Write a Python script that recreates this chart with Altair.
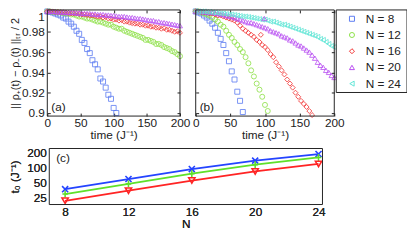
import altair as alt
import pandas as pd

# ---------------- data ----------------
labels = ["N = 8", "N = 12", "N = 16", "N = 20", "N = 24"]
marker_colors = ["#5c7cf2", "#8be044", "#f23030", "#b94ef2", "#5fe6d6"]
marker_shapes = ["square", "circle", "diamond", "triangle-up", "triangle-left"]

t_grid = list(range(0, 201, 4))  # sampling times (J^-1)

# panel (a)
a_n8 = [1.000, 0.9995, 0.999, 0.998, 0.997, 0.996, 0.994, 0.993, 0.990, 0.988,
        0.985, 0.981, 0.978, 0.972, 0.969, 0.963, 0.959, 0.952, 0.948, 0.943,
        0.934, 0.931, 0.925, 0.918, 0.914, 0.905, 0.900]
a_n12 = [1.000, 1.000, 0.9995, 0.9995, 0.999, 0.999, 0.9985, 0.998, 0.998, 0.997,
         0.997, 0.996, 0.995, 0.995, 0.994, 0.993, 0.993, 0.992, 0.991, 0.990,
         0.990, 0.989, 0.988, 0.987, 0.987, 0.985, 0.984, 0.983, 0.983, 0.981,
         0.980, 0.979, 0.978, 0.977, 0.976, 0.975, 0.974, 0.972, 0.972, 0.971,
         0.970, 0.968, 0.968, 0.967, 0.965, 0.964, 0.963, 0.961, 0.960, 0.958,
         0.956]
a_n16 = [1.000, 1.000, 1.000, 0.9995, 0.9995, 0.999, 0.999, 0.999, 0.9985, 0.998,
         0.998, 0.998, 0.9975, 0.997, 0.997, 0.9965, 0.996, 0.996, 0.9955, 0.995,
         0.995, 0.994, 0.9945, 0.993, 0.993, 0.992, 0.992, 0.991, 0.9915, 0.990,
         0.990, 0.989, 0.9885, 0.988, 0.988, 0.987, 0.987, 0.986, 0.986, 0.985,
         0.985, 0.984, 0.984, 0.983, 0.9835, 0.982, 0.982, 0.981, 0.980, 0.9805,
         0.979]
a_n20 = [1.000, 1.000, 1.000, 1.000, 0.9995, 0.9995, 0.9995, 0.999, 0.999, 0.999,
         0.999, 0.9985, 0.9985, 0.998, 0.998, 0.998, 0.998, 0.9975, 0.9975, 0.997,
         0.997, 0.997, 0.9965, 0.9965, 0.996, 0.996, 0.9955, 0.995, 0.995, 0.995,
         0.9945, 0.994, 0.994, 0.9935, 0.993, 0.993, 0.9925, 0.992, 0.9915, 0.991,
         0.991, 0.990, 0.990, 0.989, 0.989, 0.9885, 0.988, 0.9875, 0.987, 0.9865,
         0.986]

# panel (b)
b_n8 = [1.000, 0.999, 0.998, 0.996, 0.994, 0.991, 0.988, 0.984, 0.979, 0.973,
        0.967, 0.959, 0.951, 0.941, 0.933, 0.921, 0.912, 0.901]
b_n12 = [1.000, 1.000, 0.999, 0.998, 0.997, 0.996, 0.994, 0.992, 0.990, 0.987,
         0.985, 0.981, 0.977, 0.974, 0.970, 0.967, 0.963, 0.960, 0.955, 0.949,
         0.942, 0.936, 0.929, 0.923, 0.916, 0.908, 0.902]
b_n16 = [1.000, 1.000, 0.9995, 0.999, 0.999, 0.998, 0.998, 0.997, 0.996, 0.996,
         0.995, 0.994, 0.993, 0.992, 0.991, 0.989, 0.986, 0.983, 0.981, 0.979,
         0.977, 0.975, 0.972, 0.970, 0.967, 0.965, 0.962, 0.958, 0.955, 0.950,
         0.946, 0.942, 0.938, 0.933, 0.929, 0.925, 0.920, 0.916, 0.912, 0.909,
         0.906, 0.902, 0.898]
b_n20 = [1.000, 1.000, 1.000, 0.9995, 0.9995, 0.999, 0.999, 0.9985, 0.998, 0.9975,
         0.997, 0.996, 0.9955, 0.995, 0.994, 0.993, 0.992, 0.991, 0.990, 0.989,
         0.989, 0.988, 0.987, 0.986, 0.985, 0.984, 0.983, 0.981, 0.980, 0.979,
         0.978, 0.976, 0.975, 0.974, 0.972, 0.971, 0.969, 0.967, 0.966, 0.964,
         0.962, 0.960, 0.957, 0.954, 0.950, 0.947, 0.945, 0.942, 0.940, 0.937,
         0.935]
b_n24 = [1.000, 1.000, 1.000, 1.000, 0.9995, 0.9995, 0.999, 0.999, 0.9985, 0.998,
         0.998, 0.9975, 0.997, 0.997, 0.9965, 0.996, 0.9955, 0.995, 0.995, 0.9945,
         0.994, 0.9935, 0.993, 0.9925, 0.992, 0.992, 0.991, 0.990, 0.990, 0.989,
         0.988, 0.987, 0.987, 0.986, 0.985, 0.984, 0.983, 0.982, 0.981, 0.980,
         0.979, 0.978, 0.977, 0.976, 0.975, 0.973, 0.972, 0.970, 0.968, 0.966,
         0.965]
# isolated outlying samples in panel (b)
b_extra_t = [94, 99]
b_extra_v = [0.977, 0.993]
b_extra_lab = ["N = 16", "N = 20"]

# panel (c)
N_vals = [8, 12, 16, 20, 24]
t0_blue = [37.5, 60, 95, 140, 190]
t0_green = [30, 48, 77, 116, 162]
t0_red = [22, 35, 56, 85, 120]

time_ticks = [0, 50, 100, 150, 200]
y_ticks = [0.9, 0.92, 0.94, 0.96, 0.98, 1.0]
t0_ticks = [25, 50, 100, 200]

# ---------------- tables ----------------
def series_table(series, extra=None):
    rows = []
    k = 0
    for lab, vals in series:
        for t, v in zip(t_grid, vals):
            rows.append({"t": t, "v": v, "label": lab, "k": k})
            k += 1
    if extra:
        for t, v, lab in zip(*extra):
            rows.append({"t": t, "v": v, "label": lab, "k": k})
            k += 1
    return pd.DataFrame(rows)

df_a = series_table(list(zip(labels[:4], [a_n8, a_n12, a_n16, a_n20])))
df_b = series_table(list(zip(labels, [b_n8, b_n12, b_n16, b_n20, b_n24])),
                    (b_extra_t, b_extra_v, b_extra_lab))
df_leg = pd.DataFrame({"label": labels, "row": list(range(len(labels)))})
df_c = pd.DataFrame({"N": N_vals * 3,
                     "t0": t0_blue + t0_green + t0_red,
                     "s": ["blue"] * 5 + ["green"] * 5 + ["red"] * 5})

# ---------------- layout (pixels inside the figure) ----------------
W, H = 406, 225
FS = 12
TXT = "#222"
A_X = (40, 175)
B_X = (191, 332)
TOP_Y = (0, 108)
C_X = (42, 320)
C_Y = (141, 198)
LEG_X = (334, 406)
LEG_Y = (0, 84)

color_enc = alt.Color("label:N", scale=alt.Scale(domain=labels, range=marker_colors), legend=None)
shape_enc = alt.Shape("label:N", scale=alt.Scale(domain=labels, range=marker_shapes), legend=None)
one = pd.DataFrame({"z": [0]})
y_top_scale = alt.Scale(domain=[0.897, 1.0015], range=[TOP_Y[1], TOP_Y[0]], nice=False)


def t_scale(rng):
    return alt.Scale(domain=[0, 200], range=list(rng), nice=False)


def x_time_axis():
    return alt.Axis(orient="bottom", offset=TOP_Y[1] - H, values=time_ticks,
                    title="time (J⁻¹)", labelFlush=False, labelPadding=2, titlePadding=1)


def tick_axis(orient, offset, values):
    return alt.Axis(orient=orient, offset=offset, values=values, labels=False, title=None,
                    ticks=True, tickSize=3, tickColor=TXT, tickWidth=1, domain=False)


def inner_ticks(df, xr, yr):
    """two invisible layers that only carry inward-pointing tick marks on all four edges"""
    ys = y_top_scale
    xs = t_scale(xr)
    l1 = alt.Chart(df).mark_point(opacity=0).encode(
        x=alt.X("t:Q", scale=xs, axis=tick_axis("top", -yr[1], time_ticks)),
        y=alt.Y("v:Q", scale=ys, axis=tick_axis("right", xr[0] - W, y_ticks)))
    l2 = alt.Chart(df).mark_point(opacity=0).encode(
        x=alt.X("t:Q", scale=xs, axis=tick_axis("bottom", yr[0] - H, time_ticks)),
        y=alt.Y("v:Q", scale=ys, axis=tick_axis("left", -xr[1], y_ticks)))
    return [l1, l2]


pts_a = alt.Chart(df_a).mark_point(filled=False, size=26, strokeWidth=0.9, opacity=0.9).encode(
    x=alt.X("t:Q", scale=t_scale(A_X), axis=x_time_axis()),
    y=alt.Y("v:Q", scale=y_top_scale,
            axis=alt.Axis(orient="left", offset=-A_X[0], values=y_ticks, format=".2~f",
                          title="|| ρ₊(t) − ρ₋(t) ||ₜᵣ / 2", titleFontSize=11,
                          titleAngle=270, titleBaseline="bottom", titleAlign="center",
                          titleX=13 - A_X[0], titleY=(TOP_Y[0] + TOP_Y[1]) / 2,
                          labelPadding=3, labelFlush=3)),
    color=color_enc, shape=shape_enc, order=alt.Order("k:Q"),
)
pts_b = alt.Chart(df_b).mark_point(filled=False, size=26, strokeWidth=0.9, opacity=0.9).encode(
    x=alt.X("t:Q", scale=t_scale(B_X), axis=x_time_axis()),
    y=alt.Y("v:Q", scale=y_top_scale, axis=None),
    color=color_enc, shape=shape_enc, order=alt.Order("k:Q"),
)


def frame(xr, yr):
    return alt.Chart(one).mark_rect(fillOpacity=0, stroke=TXT, strokeWidth=1).encode(
        x=alt.value(xr[0]), x2=alt.value(xr[1]), y=alt.value(yr[0]), y2=alt.value(yr[1]))


def tag(s, x, y):
    return alt.Chart(pd.DataFrame({"s": [s]})).mark_text(
        align="left", baseline="middle", fontSize=FS, color=TXT).encode(
        x=alt.value(x), y=alt.value(y), text="s:N")


# legend
leg_y = alt.Y("row:O", axis=None, scale=alt.Scale(range=[9, 75], padding=0))
leg_box = alt.Chart(one).mark_rect(fill="white", stroke=TXT, strokeWidth=1).encode(
    x=alt.value(LEG_X[0]), x2=alt.value(LEG_X[1]), y=alt.value(LEG_Y[0]), y2=alt.value(LEG_Y[1]))
leg_pts = alt.Chart(df_leg).mark_point(filled=False, size=26, strokeWidth=1, opacity=1).encode(
    x=alt.value(LEG_X[0] + 16), y=leg_y, color=color_enc, shape=shape_enc)
leg_txt = alt.Chart(df_leg).mark_text(align="left", baseline="middle", fontSize=FS,
                                      color=TXT).encode(
    x=alt.value(LEG_X[0] + 30), y=leg_y, text="label:N")

# panel (c)
line_cols = {"blue": "#2444ff", "green": "#5fe02a", "red": "#ff2424"}
mk = {"blue": ("M-1,-1L1,1M-1,1L1,-1", 38),
      "green": ("M-0.8,0L0.8,0M0,-1L0,1", 48),
      "red": ("triangle-down", 40)}
cx_scale = alt.Scale(domain=[7, 24.25], range=list(C_X), nice=False)
cy_scale = alt.Scale(type="log", domain=[18.5, 245], range=[C_Y[1], C_Y[0]], nice=False)
c_layers = []
for i, s in enumerate(["blue", "green", "red"]):
    d = df_c[df_c.s == s]
    if i == 0:
        xax = alt.Axis(orient="bottom", offset=C_Y[1] - H, values=N_vals, title="N",
                       labelPadding=2, titlePadding=1)
        yax = alt.Axis(orient="left", offset=-C_X[0], values=t0_ticks,
                       title="t₀ (J⁻¹)", titleAngle=270, titleBaseline="bottom",
                       titleAlign="center", titleX=14 - C_X[0],
                       titleY=(C_Y[0] + C_Y[1]) / 2, labelPadding=3)
    else:
        xax, yax = None, None
    base = alt.Chart(d).encode(x=alt.X("N:Q", scale=cx_scale, axis=xax),
                               y=alt.Y("t0:Q", scale=cy_scale, axis=yax))
    c_layers.append(base.mark_line(color=line_cols[s], strokeWidth=1.8))
    c_layers.append(base.mark_point(shape=mk[s][0], size=mk[s][1], filled=False,
                                    color=line_cols[s], strokeWidth=1.6, opacity=1))

layers = ([pts_a, pts_b] + inner_ticks(df_a, A_X, TOP_Y) + inner_ticks(df_b, B_X, TOP_Y) +
          [frame(A_X, TOP_Y), frame(B_X, TOP_Y),
           tag("(a)", A_X[0] + 4, TOP_Y[1] - 9), tag("(b)", B_X[0] + 4, TOP_Y[1] - 9),
           leg_box, leg_pts, leg_txt] + c_layers +
          [frame(C_X, C_Y), tag("(c)", C_X[0] + 7, C_Y[0] + 10)])

chart = alt.layer(*layers).resolve_scale(x="independent", y="independent").properties(
    width=W, height=H, padding=0, autosize=alt.AutoSizeParams(type="none")
).configure(font="Liberation Sans").configure_view(stroke=None).configure_axis(
    labelFontSize=FS, titleFontSize=FS, labelColor=TXT, titleColor=TXT,
    titleFontWeight="normal", grid=False, domain=False, ticks=False, tickSize=0,
)

chart.save("out.html", embed_options={"renderer": "svg", "actions": False})
